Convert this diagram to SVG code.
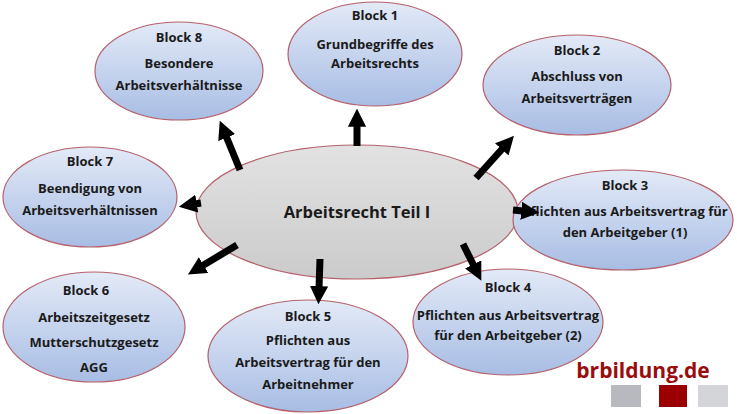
<svg xmlns="http://www.w3.org/2000/svg" width="737" height="414" viewBox="0 0 737 414">
<defs>
<linearGradient id="g" x1="0" y1="0" x2="0" y2="1"><stop offset="0" stop-color="#e3eaf7"/><stop offset="1" stop-color="#a8bde4"/></linearGradient>
<linearGradient id="gc" x1="0" y1="0" x2="0" y2="1"><stop offset="0" stop-color="#e2e2e2"/><stop offset="1" stop-color="#cbcbcb"/></linearGradient>
<marker id="ah" viewBox="0 0 10 10" refX="1" refY="5" markerWidth="2.6" markerHeight="2.6" orient="auto" markerUnits="strokeWidth"><path d="M0,0 L10,5 L0,10 z" fill="#000"/></marker>
</defs>
<style>
.e{fill:url(#g);stroke:#b5606a;stroke-width:1.2}
.t{font-family:"Open Sans","Liberation Sans",sans-serif;font-weight:bold;font-size:13px;fill:#1a1a1a;text-anchor:middle}
.c line{stroke:#000;stroke-width:7;marker-end:url(#ah)}
</style>
<rect width="737" height="414" fill="#fff"/>
<g id="center"><ellipse cx="357" cy="212" rx="161" ry="67" fill="url(#gc)" stroke="#b5606a" stroke-width="1.2"/><text class="t" x="357" y="218" style="font-size:16.5px">Arbeitsrecht Teil I</text></g>
<g id="b1"><ellipse class="e" cx="375" cy="54" rx="87" ry="52"/><text class="t" x="375" y="20">Block 1</text><text class="t" x="375" y="49">Grundbegriffe des</text><text class="t" x="375" y="68">Arbeitsrechts</text></g>
<g id="b8"><ellipse class="e" cx="179" cy="71" rx="84" ry="49"/><text class="t" x="179" y="42">Block 8</text><text class="t" x="179" y="68">Besondere</text><text class="t" x="179" y="90">Arbeitsverhältnisse</text></g>
<g id="b2"><ellipse class="e" cx="577" cy="85" rx="94" ry="50"/><text class="t" x="577" y="55">Block 2</text><text class="t" x="577" y="81">Abschluss von</text><text class="t" x="577" y="103">Arbeitsverträgen</text></g>
<g id="b7"><ellipse class="e" cx="90" cy="197" rx="87" ry="50"/><text class="t" x="90" y="166">Block 7</text><text class="t" x="90" y="193">Beendigung von</text><text class="t" x="90" y="215">Arbeitsverhältnissen</text></g>
<g id="b3"><ellipse class="e" cx="623" cy="220" rx="110" ry="50"/><text class="t" x="625" y="190">Block 3</text><text class="t" x="625" y="216">Pflichten aus Arbeitsvertrag für</text><text class="t" x="625" y="237">den Arbeitgeber  (1)</text></g>
<g id="b6"><ellipse class="e" cx="94" cy="327" rx="91" ry="55"/><text class="t" x="86" y="295">Block 6</text><text class="t" x="94" y="322">Arbeitszeitgesetz</text><text class="t" x="94" y="347">Mutterschutzgesetz</text><text class="t" x="94" y="372">AGG</text></g>
<g id="b5"><ellipse class="e" cx="308" cy="356" rx="100" ry="56"/><text class="t" x="308" y="321">Block 5</text><text class="t" x="308" y="345">Pflichten aus</text><text class="t" x="308" y="367">Arbeitsvertrag für den</text><text class="t" x="308" y="389">Arbeitnehmer</text></g>
<g id="b4"><ellipse class="e" cx="508" cy="322" rx="95" ry="53"/><text class="t" x="508" y="292">Block 4</text><text class="t" x="508" y="320">Pflichten aus Arbeitsvertrag</text><text class="t" x="508" y="340">für den Arbeitgeber (2)</text></g>
<g class="c">
<line x1="357" y1="146" x2="357" y2="125"/>
<line x1="240" y1="170" x2="226" y2="136"/>
<line x1="476" y1="178" x2="503" y2="148"/>
<line x1="513" y1="210" x2="523" y2="211"/>
<line x1="201" y1="203" x2="195" y2="204"/>
<line x1="237" y1="245" x2="202" y2="266"/>
<line x1="320" y1="259" x2="319" y2="288"/>
<line x1="463" y1="244" x2="474" y2="266"/>
</g>
<g id="logo"><text x="643" y="378" style="font-family:'Open Sans','Liberation Sans',sans-serif;font-weight:bold;font-size:21px;fill:#9b0c0c;text-anchor:middle">brbildung.de</text>
<rect x="611" y="385" width="30" height="22" fill="#b8b9be"/><rect x="659" y="385" width="28" height="22" fill="#9b0000"/><rect x="698" y="385" width="30" height="22" fill="#d4d5d9"/></g>
</svg>
